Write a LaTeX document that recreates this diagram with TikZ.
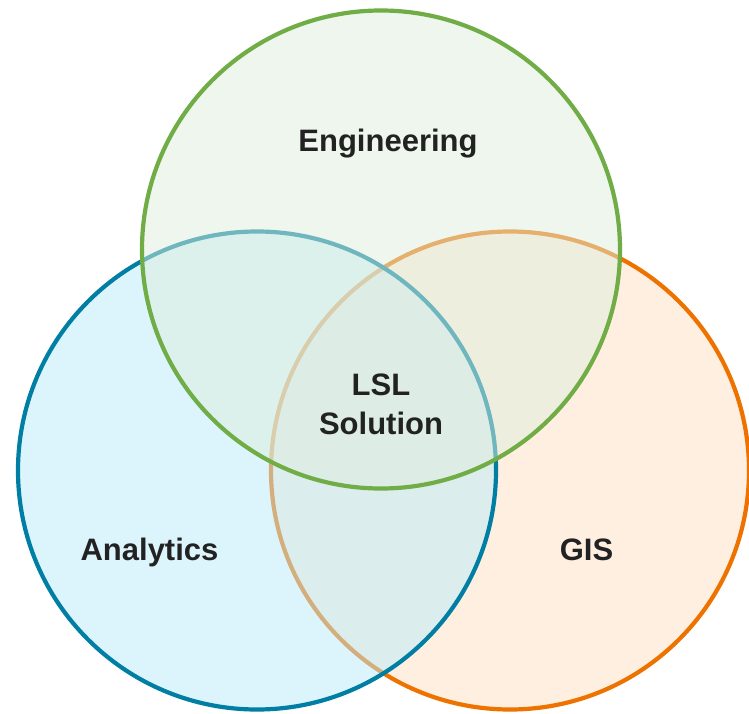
\documentclass[tikz,border=0pt]{standalone}
\usepackage{fontspec}
\setmainfont{Liberation Sans}
\definecolor{engline}{RGB}{112,173,71}
\definecolor{engfill}{RGB}{222,238,220}
\definecolor{analine}{RGB}{0,126,163}
\definecolor{anafill}{RGB}{186,236,252}
\definecolor{gisline}{RGB}{238,114,0}
\definecolor{gisfill}{RGB}{255,223,195}
\definecolor{labeltext}{RGB}{34,34,34}
\tikzset{
  setcircle/.style={circle, minimum size=478pt, inner sep=0pt, line width=4.2pt, fill opacity=0.5},
  setlabel/.style={font=\bfseries\fontsize{31}{39}\selectfont, text=labeltext, inner sep=0pt, anchor=base}
}
\begin{document}
\begin{tikzpicture}[x=1pt, y=-1pt]
  \useasboundingbox (0,0) rectangle (749,714);
  % the three sets, lowest first
  \node[setcircle, draw=gisline, fill=gisfill] (gis) at (510,470.5) {};
  \node[setcircle, draw=analine, fill=anafill] (ana) at (257,470.5) {};
  \node[setcircle, draw=engline, fill=engfill] (eng) at (381,249.5) {};
  % labels, placed by their baselines
  \node[setlabel] (engtext) at (388,152) {Engineering};
  \node[setlabel] (anatext) at (149.5,560) {Analytics};
  \node[setlabel] (gistext) at (586.5,560) {GIS};
  \node[setlabel] (lsltext) at (381,395) {LSL};
  \node[setlabel] (soltext) at (381,434) {Solution};
\end{tikzpicture}
\end{document}
